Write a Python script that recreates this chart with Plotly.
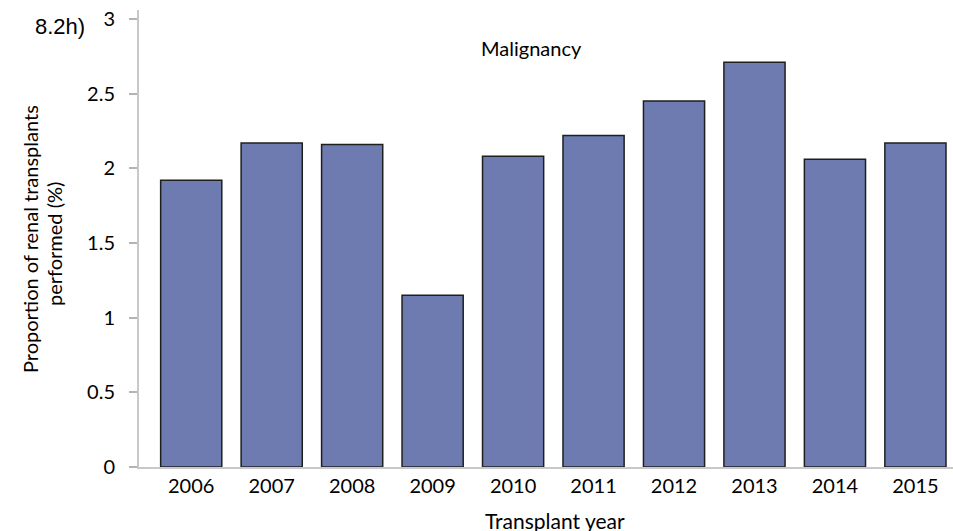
import plotly.graph_objects as go

# Renal transplants with malignancy as a proportion of all performed, by year
years = ["2006", "2007", "2008", "2009", "2010", "2011", "2012", "2013", "2014", "2015"]
proportion_pct = [1.92, 2.17, 2.16, 1.15, 2.08, 2.22, 2.45, 2.71, 2.06, 2.17]

y_ticks = [0, 0.5, 1, 1.5, 2, 2.5, 3]
y_tick_labels = ["0", "0.5", "1", "1.5", "2", "2.5", "3"]

FONT = "Lato, 'Open Sans', sans-serif"

# Page geometry (pixels) used for margins and for placing free text
W, H = 953, 531
L, R, T, B = 139, 0, 10, 64
pw, ph = W - L - R, H - T - B


def text_at(text, x_px, y_px, size, family=FONT, angle=0):
    """Free text centred on a pixel position of the page."""
    return dict(
        text=text,
        xref="paper", yref="paper",
        x=(x_px - L) / pw, y=1 - (y_px - T) / ph,
        xanchor="center", yanchor="middle",
        showarrow=False, textangle=angle,
        font=dict(size=size, family=family, color="black"),
    )


fig = go.Figure(
    go.Bar(
        x=list(range(len(years))),
        y=proportion_pct,
        marker=dict(color="#6d7bb0", line=dict(color="#1f1f1f", width=1.5)),
        width=0.76,
    )
)

fig.update_layout(
    width=W,
    height=H,
    margin=dict(l=L, r=R, t=T, b=B),
    paper_bgcolor="white",
    plot_bgcolor="white",
    showlegend=False,
    font=dict(family=FONT, color="black"),
    annotations=[
        text_at("Malignancy", 531, 48, 20),
        text_at("8.2h)", 60, 27, 22, family="'Liberation Sans', Arial, sans-serif"),
        text_at("Transplant year", 555, 520, 21),
        text_at("Proportion of renal transplants", 30, 239, 20, angle=-90),
        text_at("performed (%)", 54, 244, 20, angle=-90),
    ],
)

fig.update_xaxes(
    range=[-0.649, 9.467],
    tickmode="array",
    tickvals=list(range(len(years))),
    ticktext=years,
    ticks="",
    showline=True,
    linecolor="#c8c8c8",
    linewidth=1.5,
    showgrid=False,
    zeroline=False,
    tickfont=dict(size=20, family=FONT),
)

# Non-breaking spaces after each label keep a wider gap to the tick marks
fig.update_yaxes(
    range=[0, 3.06],
    tickmode="array",
    tickvals=y_ticks,
    ticktext=[t + "\u00a0\u00a0" for t in y_tick_labels],
    ticks="outside",
    ticklen=8,
    tickcolor="#b4b4b4",
    tickwidth=1.5,
    showline=True,
    linecolor="#c8c8c8",
    linewidth=1.5,
    showgrid=False,
    zeroline=False,
    tickfont=dict(size=20, family=FONT),
)

fig.write_html("out.html")
